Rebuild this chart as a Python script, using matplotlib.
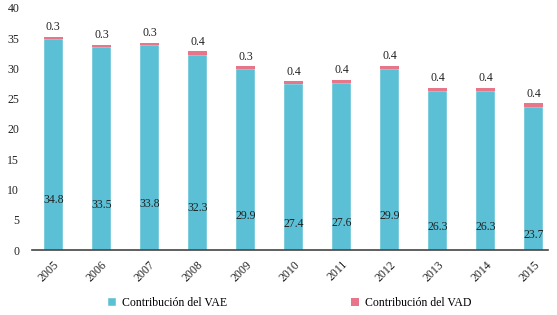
import numpy as np
import matplotlib.pyplot as plt

years = ['2005', '2006', '2007', '2008', '2009', '2010', '2011', '2012', '2013', '2014', '2015']
vae = [34.8, 33.5, 33.8, 32.3, 29.9, 27.4, 27.6, 29.9, 26.3, 26.3, 23.7]
vad = [0.3, 0.3, 0.3, 0.4, 0.3, 0.4, 0.4, 0.4, 0.4, 0.4, 0.4]

blue = '#5bc0d5'
pink = '#e8768a'

plt.rcParams['font.family'] = ['Liberation Serif', 'DejaVu Serif']

fig = plt.figure(figsize=(5.57, 3.15), dpi=100)
ax = fig.add_axes([0.057, 0.206, 0.927, 0.769])

x = np.arange(len(years))
vae = np.array(vae)
vad = np.array(vad)
ax.bar(x, vae, width=0.4, color=blue, edgecolor='white', linewidth=0.3,
       label='Contribución del VAE')
ax.bar(x, vad + 0.15, bottom=vae, width=0.4, color=pink, linewidth=0,
       label='Contribución del VAD')

for i in range(len(x)):
    ax.text(x[i], 0.52 * vae[i] - 9.9, '%.1f' % vae[i], ha='center', va='center',
            fontsize=8.5, color='#222222')
    ax.text(x[i], vae[i] + vad[i] + 0.7, '%.1f' % vad[i], ha='center', va='bottom',
            fontsize=8.5, color='#222222')

ax.set_ylim(0, 40)
ax.set_xlim(-0.45, len(x) - 0.7)
ax.set_yticks(range(0, 41, 5))
ax.set_xticks(x)
ax.set_xticklabels(years, rotation=45, ha='right', rotation_mode='anchor')
ax.tick_params(length=0, labelsize=8.5, colors='#222222')
ax.tick_params(axis='x', pad=6)
ax.tick_params(axis='y', pad=9)
for s in ['top', 'right', 'left']:
    ax.spines[s].set_visible(False)
ax.spines['bottom'].set_color('#444444')
ax.spines['bottom'].set_linewidth(1.2)

fig.legend(loc='lower center', bbox_to_anchor=(0.52, -0.015), ncol=2, frameon=False,
           fontsize=8.5, handlelength=0.7, handleheight=0.7, columnspacing=10.5,
           handletextpad=0.5)

fig.savefig('out.png', dpi=100)
